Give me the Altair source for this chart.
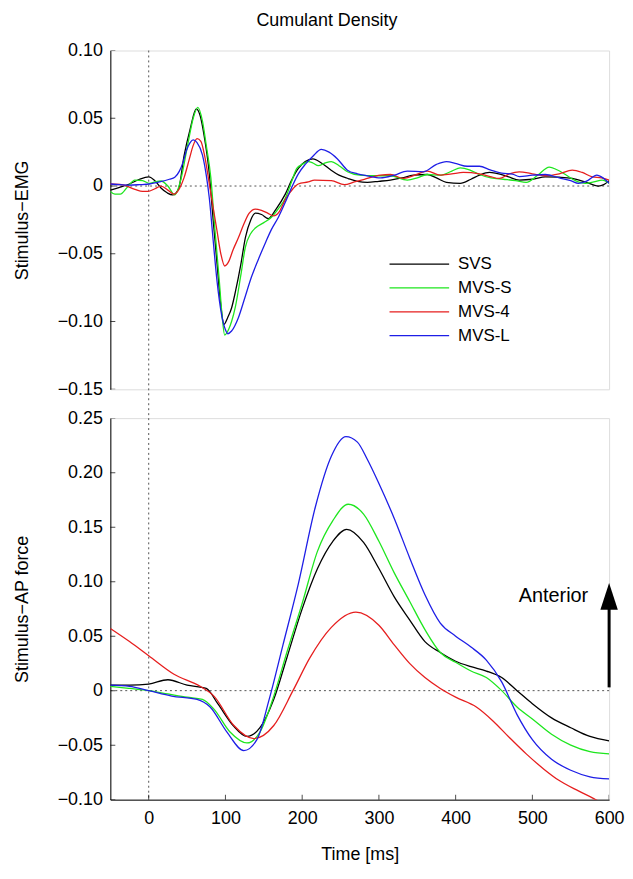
import altair as alt
import pandas as pd

names = ["SVS", "MVS-S", "MVS-4", "MVS-L"]
colors = ["#000000", "#1ee61e", "#e61e1e", "#1e1ee6"]

# ---------- top panel: Stimulus-EMG ----------
emg_svs_t = [-50, -38, -25, -12, 0, 8, 16, 24, 31, 39, 46, 54, 62, 67, 72, 79, 84, 89, 94, 98, 103, 108, 113, 120, 126, 133, 139, 147, 156, 166, 178, 186, 195, 204, 214, 225, 237, 248, 260, 272, 285, 300, 315, 330, 345, 363, 375, 388, 406, 420, 431, 444, 453, 468, 483, 500, 517, 535, 552, 569, 586, 593, 600]
emg_svs_v = [-0.003, -0.001, 0.0015, 0.005, 0.0068, 0.004, -0.0015, -0.005, -0.0066, -0.002, 0.022, 0.042, 0.057, 0.052, 0.038, 0.009, -0.025, -0.057, -0.088, -0.102, -0.097, -0.090, -0.078, -0.058, -0.038, -0.025, -0.020, -0.021, -0.024, -0.017, -0.006, 0.004, 0.013, 0.018, 0.020, 0.017, 0.012, 0.008, 0.0055, 0.0035, 0.0027, 0.0035, 0.0044, 0.006, 0.008, 0.0085, 0.006, 0.0027, 0.002, 0.005, 0.008, 0.010, 0.0093, 0.007, 0.0044, 0.005, 0.0068, 0.0065, 0.0056, 0.003, 0.0, 0.001, 0.004]

emg_mvss_t = [-50, -44, -37, -28, -18, -8, 1, 8, 16, 25, 34, 42, 51, 58, 64, 70, 75, 81, 86, 92, 96, 99, 104, 108, 113, 120, 126, 133, 139, 150, 160, 170, 178, 186, 193, 200, 208, 214, 221, 230, 238, 248, 259, 275, 294, 315, 337, 350, 363, 380, 395, 406, 418, 431, 446, 462, 478, 492, 507, 522, 532, 543, 556, 569, 580, 591, 600]
emg_mvss_v = [-0.004, -0.006, -0.006, -0.001, 0.0044, 0.004, 0.002, 0.003, 0.0037, 0.0, -0.0066, 0.005, 0.031, 0.050, 0.058, 0.048, 0.030, 0.006, -0.030, -0.070, -0.098, -0.110, -0.106, -0.100, -0.089, -0.066, -0.045, -0.035, -0.031, -0.027, -0.023, -0.016, -0.009, 0.003, 0.013, 0.016, 0.018, 0.017, 0.015, 0.017, 0.018, 0.015, 0.0105, 0.008, 0.0076, 0.0076, 0.0044, 0.006, 0.0085, 0.008, 0.011, 0.0134, 0.012, 0.0085, 0.006, 0.005, 0.004, 0.0027, 0.008, 0.014, 0.012, 0.0085, 0.004, 0.002, 0.003, 0.0044, 0.002]

emg_mvs4_t = [-50, -35, -18, -8, -1, 8, 16, 25, 33, 40, 46, 53, 58, 63, 68, 73, 79, 84, 89, 94, 99, 104, 110, 117, 124, 131, 139, 147, 155, 163, 170, 178, 188, 195, 208, 216, 238, 255, 268, 281, 302, 315, 332, 347, 363, 380, 395, 410, 431, 445, 457, 470, 483, 500, 517, 535, 552, 565, 578, 590, 600]
emg_mvs4_v = [0.0015, 0.001, -0.0024, -0.004, -0.004, -0.002, 0.0, -0.003, -0.006, -0.002, 0.006, 0.020, 0.030, 0.035, 0.033, 0.022, 0.0015, -0.016, -0.033, -0.050, -0.059, -0.056, -0.047, -0.038, -0.028, -0.020, -0.017, -0.018, -0.020, -0.022, -0.019, -0.010, -0.002, 0.0015, 0.003, 0.0044, 0.004, 0.001, 0.003, 0.005, 0.008, 0.0085, 0.0056, 0.008, 0.011, 0.008, 0.009, 0.010, 0.009, 0.007, 0.0056, 0.009, 0.0105, 0.009, 0.0076, 0.009, 0.0117, 0.010, 0.0068, 0.006, 0.0044]

emg_mvsl_t = [-50, -37, -25, -12, 1, 14, 27, 34, 40, 45, 49, 54, 58, 63, 70, 75, 79, 84, 89, 95, 100, 103, 108, 117, 125, 134, 143, 152, 160, 169, 178, 186, 195, 204, 214, 225, 235, 246, 259, 272, 285, 302, 320, 337, 358, 375, 388, 401, 415, 431, 445, 460, 474, 483, 500, 517, 535, 550, 560, 572, 584, 592, 600]
emg_mvsl_v = [0.0015, 0.001, 0.0007, 0.001, 0.0015, 0.003, 0.005, 0.0065, 0.011, 0.018, 0.026, 0.032, 0.034, 0.032, 0.023, 0.008, -0.009, -0.040, -0.070, -0.095, -0.106, -0.109, -0.107, -0.097, -0.083, -0.067, -0.054, -0.042, -0.032, -0.023, -0.012, -0.0015, 0.009, 0.016, 0.022, 0.027, 0.025, 0.020, 0.0117, 0.009, 0.0075, 0.006, 0.008, 0.011, 0.0105, 0.016, 0.018, 0.0165, 0.0146, 0.0146, 0.012, 0.0095, 0.0088, 0.007, 0.008, 0.0085, 0.006, 0.004, 0.002, 0.004, 0.008, 0.006, 0.002]

# ---------- bottom panel: Stimulus-AP force ----------
ap_svs_t = [-50, -25, 0, 25, 50, 75, 90, 110, 128, 145, 163, 180, 200, 220, 240, 258, 280, 300, 320, 340, 360, 380, 400, 420, 440, 460, 480, 500, 525, 550, 575, 600]
ap_svs_v = [0.005, 0.005, 0.006, 0.010, 0.005, 0.002, -0.012, -0.032, -0.042, -0.034, -0.008, 0.030, 0.075, 0.112, 0.137, 0.148, 0.136, 0.112, 0.086, 0.065, 0.045, 0.035, 0.027, 0.022, 0.018, 0.012, 0.000, -0.012, -0.025, -0.034, -0.042, -0.046]

ap_mvss_t = [-50, -25, 0, 25, 50, 70, 85, 106, 128, 145, 163, 180, 200, 220, 240, 260, 280, 300, 320, 340, 360, 380, 400, 420, 440, 460, 480, 500, 525, 550, 575, 600]
ap_mvss_v = [0.004, 0.002, 0.0, -0.003, -0.006, -0.008, -0.017, -0.038, -0.048, -0.038, -0.005, 0.035, 0.080, 0.128, 0.156, 0.171, 0.162, 0.137, 0.108, 0.082, 0.056, 0.035, 0.026, 0.018, 0.012, 0.0, -0.015, -0.026, -0.040, -0.050, -0.056, -0.058]

ap_mvs4_t = [-50, -25, 0, 33, 67, 85, 111, 137, 163, 188, 210, 238, 270, 300, 320, 340, 360, 380, 400, 427, 449, 470, 492, 515, 534, 560, 580, 600]
ap_mvs4_v = [0.057, 0.045, 0.032, 0.015, 0.004, -0.005, -0.032, -0.044, -0.032, 0.0, 0.030, 0.058, 0.072, 0.060, 0.042, 0.025, 0.012, 0.002, -0.006, -0.015, -0.028, -0.043, -0.058, -0.072, -0.082, -0.092, -0.099, -0.107]

ap_mvsl_t = [-50, -25, 0, 30, 63, 80, 102, 124, 141, 157, 175, 195, 217, 238, 257, 272, 285, 300, 320, 340, 360, 380, 400, 420, 440, 460, 480, 500, 525, 550, 575, 600]
ap_mvsl_v = [0.005, 0.004, 0.0, -0.005, -0.008, -0.015, -0.038, -0.055, -0.045, -0.008, 0.042, 0.098, 0.168, 0.215, 0.233, 0.228, 0.212, 0.190, 0.158, 0.122, 0.088, 0.062, 0.050, 0.040, 0.028, 0.008, -0.022, -0.045, -0.063, -0.073, -0.079, -0.081]

top_ticks = [-0.15, -0.10, -0.05, 0.0, 0.05, 0.10]
bottom_ticks = [-0.10, -0.05, 0.0, 0.05, 0.10, 0.15, 0.20, 0.25]
x_ticks = [0, 100, 200, 300, 400, 500, 600]

arrow_t = [600]
arrow_base = [0.003]
arrow_tip = [0.080]
arrow_head = [0.0865]
arrow_label = ["Anterior"]

FONT = "Liberation Sans"
FS = 18
W = 502
H_TOP = 341
H_BOT = 384
GAP = 29


def long(ts, vs):
    rows = []
    for name, t, v in zip(names, ts, vs):
        for a, b in zip(t, v):
            rows.append({"t": a, "v": b, "series": name})
    return pd.DataFrame(rows)


emg = long([emg_svs_t, emg_mvss_t, emg_mvs4_t, emg_mvsl_t],
           [emg_svs_v, emg_mvss_v, emg_mvs4_v, emg_mvsl_v])
ap = long([ap_svs_t, ap_mvss_t, ap_mvs4_t, ap_mvsl_t],
          [ap_svs_v, ap_mvss_v, ap_mvs4_v, ap_mvsl_v])

xscale = alt.Scale(domain=[-50, 600], nice=False, zero=False)
color_scale = alt.Scale(domain=names, range=colors)
label_expr = "datum.value == 0 ? '0' : format(datum.value, '.2f')"


def yaxis(ticks, title):
    return alt.Axis(values=ticks, labelExpr=label_expr, ticks=False, grid=False,
                    labelFlush=False, labelOverlap=False,
                    domainColor="black", labelColor="black", labelFont=FONT,
                    labelFontSize=FS, labelPadding=8, title=title, titleFont=FONT,
                    titleFontSize=FS, titleFontWeight="normal", titleColor="black",
                    titlePadding=26)


def panel(df, ticks, title, xaxis):
    yscale = alt.Scale(domain=[ticks[0], ticks[-1]], nice=False, zero=False)
    Y = alt.Y("v:Q", scale=yscale, axis=yaxis(ticks, title))
    X = alt.X("t:Q", scale=xscale, axis=xaxis)
    lines = alt.Chart(df).mark_line(strokeWidth=1.3, interpolate="monotone", clip=True).encode(
        x=X, y=Y,
        color=alt.Color("series:N", scale=color_scale, legend=None),
        order=alt.Order("t:Q"),
    )
    zero_h = alt.Chart(pd.DataFrame({"v": [0.0]})).mark_rule(
        strokeDash=[2, 3], color="#555555", strokeWidth=1).encode(y=Y)
    yt = alt.Chart(pd.DataFrame({"t": [-50] * len(ticks), "v": ticks})).mark_tick(
        orient="horizontal", size=10, thickness=1, color="black", clip=True).encode(x=X, y=Y)
    return [zero_h, lines, yt], X, Y


# ---------- top ----------
top_layers, Xt, Yt = panel(emg, top_ticks, "Stimulus−EMG", None)
zero_v_top = alt.Chart(pd.DataFrame({"t": [0]})).mark_rule(
    strokeDash=[2, 3], color="#555555", strokeWidth=1, clip=False).encode(
    x=Xt, y=alt.value(0), y2=alt.value(H_TOP + GAP))
top_main = alt.layer(zero_v_top, *top_layers)

legend_df = pd.DataFrame({"series": names})
LY = alt.Y("series:N", axis=None,
           scale=alt.Scale(type="point", domain=names, range=[215, 287], padding=0))
leg_lines = alt.Chart(legend_df).mark_rule(strokeWidth=1.3).encode(
    y=LY, x=alt.value(281), x2=alt.value(341),
    color=alt.Color("series:N", scale=color_scale, legend=None))
leg_text = alt.Chart(legend_df).mark_text(
    align="left", baseline="middle", font=FONT, fontSize=17, color="black").encode(
    y=LY, x=alt.value(350), text="series:N")
legend = alt.layer(leg_lines, leg_text)

top = alt.layer(top_main, legend).resolve_scale(y="independent").properties(
    width=W, height=H_TOP,
    title=alt.TitleParams("Cumulant Density", font=FONT, fontSize=FS, fontWeight="normal",
                          color="black", anchor="middle", dx=-33, dy=-3, offset=9),
)

# ---------- bottom ----------
xaxis = alt.Axis(values=x_ticks, ticks=False, grid=False, domainColor="black",
                 labelFlush=False, labelOverlap=False,
                 labelColor="black", labelFont=FONT, labelFontSize=FS, labelPadding=10,
                 title="Time [ms]", titleFont=FONT, titleFontSize=FS,
                 titleFontWeight="normal", titleColor="black", titlePadding=18)
bot_layers, Xb, Yb = panel(ap, bottom_ticks, "Stimulus−AP force", xaxis)
zero_v_bot = alt.Chart(pd.DataFrame({"t": [0]})).mark_rule(
    strokeDash=[2, 3], color="#555555", strokeWidth=1).encode(
    x=Xb, y=alt.value(0), y2=alt.value(H_BOT))
xt = alt.Chart(pd.DataFrame({"t": x_ticks, "v": [-0.10] * len(x_ticks)})).mark_tick(
    orient="vertical", size=10, thickness=1, color="black", clip=True).encode(x=Xb, y=Yb)

arrow_df = pd.DataFrame({"t": arrow_t, "v": arrow_base, "v2": arrow_tip,
                         "vh": arrow_head, "label": arrow_label})
shaft = alt.Chart(arrow_df).mark_rule(strokeWidth=3, color="black").encode(
    x=Xb, y=Yb, y2="v2:Q")
head = alt.Chart(arrow_df).mark_point(
    shape="M0,-1L0.65,1L-0.65,1Z", filled=True, color="black", opacity=1, size=729,
    strokeWidth=0).encode(x=Xb, y=alt.Y("vh:Q"))
label = alt.Chart(arrow_df).mark_text(
    align="right", baseline="middle", font=FONT, fontSize=20, color="black", dx=-21).encode(
    x=Xb, y=alt.Y("vh:Q"), text="label:N")

bottom = alt.layer(zero_v_bot, *bot_layers, xt, shaft, head, label).properties(
    width=W, height=H_BOT)

chart = alt.vconcat(top, bottom, spacing=GAP, bounds="flush").properties(
    padding={"left": 4, "top": 0, "right": 0, "bottom": 0}
).configure_view(stroke=None).configure(font=FONT)

chart.save("out.html", embed_options={"renderer": "svg", "actions": False})
